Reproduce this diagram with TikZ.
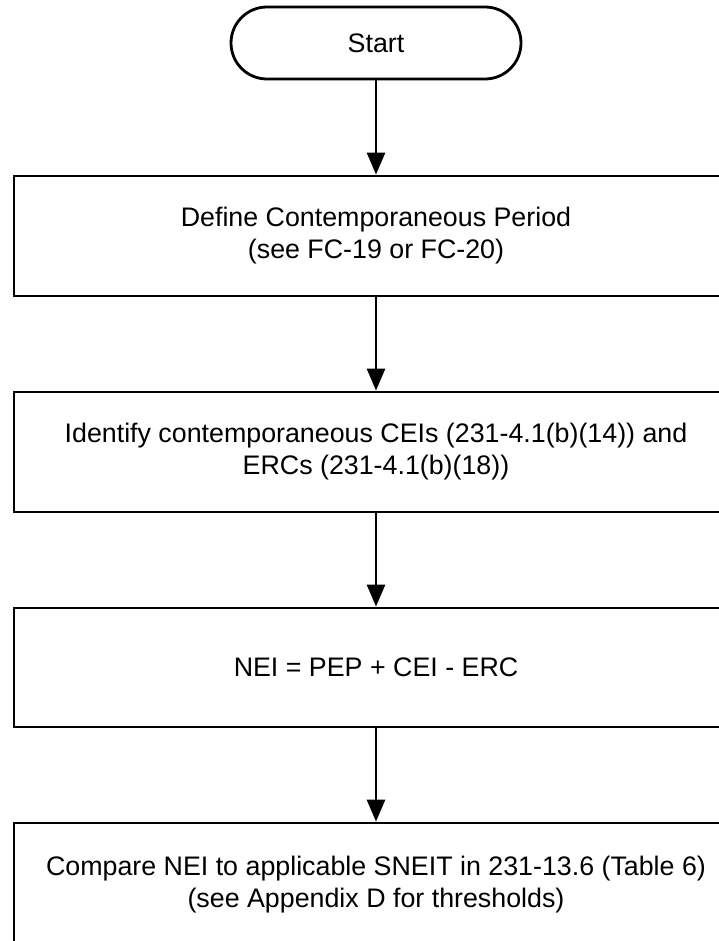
\documentclass[tikz,border=0pt]{standalone}
\usepackage{fontspec}
\setmainfont{Liberation Sans}
\usetikzlibrary{arrows.meta}
\begin{document}
\begin{tikzpicture}[x=1pt,y=-1pt,
  every node/.style={font=\fontsize{26.8}{32}\selectfont, align=center, inner sep=0pt},
  stepbox/.style={draw, line width=2.8pt, minimum width=724pt, minimum height=120pt},
  terminal/.style={draw, line width=2.8pt, minimum width=290pt, minimum height=72pt, rounded corners=36pt},
  flow/.style={line width=2.8pt, -{Triangle[width=18pt,length=22pt]}}
]
\useasboundingbox (0,0) rectangle (719,941);
\node[terminal] (start) at (376,43) {Start};
\node[stepbox] (period) at (376,236) {Define Contemporaneous Period\\(see FC-19 or FC-20)};
\node[stepbox] (ident) at (376,452) {Identify contemporaneous CEIs (231-4.1(b)(14)) and\\ERCs (231-4.1(b)(18))};
\node[stepbox, minimum height=119pt] (nei) at (376,667.5) {NEI = PEP + CEI - ERC};
\node[stepbox, minimum height=124pt] (compare) at (376,885) {Compare NEI to applicable SNEIT in 231-13.6 (Table 6)\\(see Appendix D for thresholds)};
\draw[flow] (start) -- (period);
\draw[flow] (period) -- (ident);
\draw[flow] (ident) -- (nei);
\draw[flow] (nei) -- (compare);
\end{tikzpicture}
\end{document}
